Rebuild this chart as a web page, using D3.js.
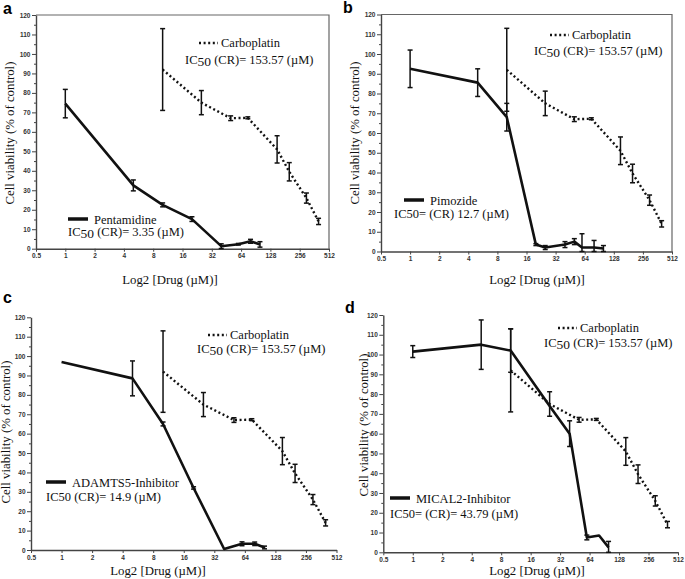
<!DOCTYPE html>
<meta charset="utf-8">
<style>
body { margin: 0; background: #fff; }
.axis path, .axis line { stroke: #444; }
.axis path { stroke-width: 1.4; }
.axis text { font-family: "Liberation Sans", Arial, sans-serif; font-size: 6.5px; font-weight: bold; fill: #333; }
.letter { font-family: "Liberation Sans", Arial, sans-serif; font-weight: bold; font-size: 16px; fill: #000; }
</style>
<body>
<script src="https://cdn.jsdelivr.net/npm/d3@7"></script>
<script>
var serif = "'Liberation Serif', 'DejaVu Serif', serif";

// x ticks (log2 scale) and y ticks
var xTicks = [0.5, 1, 2, 4, 8, 16, 32, 64, 128, 256, 512];
var yTicks = [0, 10, 20, 30, 40, 50, 60, 70, 80, 90, 100, 110, 120];
var yMinor = [5, 15, 25, 35, 45, 55, 65, 75, 85, 95, 105, 115];

// Carboplatin (same curve in all four panels)
var carboConc = [10, 25, 50, 75, 150, 200, 300, 400];
var carboMean = [92, 75, 67, 67.2, 51, 39.5, 26, 14];
var carboSd   = [21, 6.2, 1.2, 0.5, 7, 4.7, 2.6, 1.6];

// panel a
var pentaConc = [1, 5, 10, 20, 40, 60, 80, 100];
var pentaMean = [74.5, 32.5, 22.5, 15.2, 1.3, 2.3, 3.8, 2.2];
var pentaSd   = [7.3, 2.8, 1, 1.2, 1.2, 0.4, 1, 1.4];

// panel b
var pimoConc = [1, 5, 10, 20, 25, 40, 50, 60, 80, 100];
var pimoMean = [92.5, 85.5, 68, 3.5, 2, 3.5, 5, 2, 2, 1.5];
var pimoSd   = [9.5, 7, 7, 0.5, 1, 1.5, 1.5, 7, 3.6, 1.5];

// panel c
var adamConc = [1, 5, 10, 20, 40, 60, 80, 100];
var adamMean = [97, 88.5, 65, 32, 0.5, 3.2, 3.2, 1.3];
var adamSd   = [0, 9, 1, 0.6, 0, 1, 0.9, 0.7];

// panel d
var micalConc = [1, 5, 10, 25, 40, 60, 80, 100];
var micalMean = [101.5, 105, 102, 74, 60, 7.5, 8.5, 2.5];
var micalSd   = [3, 12.5, 11, 0, 6.5, 1.2, 0, 3];

var panels = [
  {letter: "a", lx: 3, ly: 14, x0: 36, x1: 329, yTop: 15, yBot: 248.7, frame: true,
   conc: pentaConc, mean: pentaMean, sd: pentaSd,
   name: "Pentamidine", ic: ["IC", "50", " (CR)= 3.35 (\u00b5M)"], icSub: true,
   leg1: [199, 43, 185, 64], leg2: [68, 219, 68, 236], yt: [14, 133], xt: [170, 284]},
  {letter: "b", lx: 343, ly: 13, x0: 381, x1: 672, yTop: 14.5, yBot: 251.5, frame: true,
   conc: pimoConc, mean: pimoMean, sd: pimoSd,
   name: "Pimozide", ic: ["IC", "50", "= (CR) 12.7 (\u00b5M)"], icSub: false,
   leg1: [550, 35, 534, 55], leg2: [404, 200, 394, 218], yt: [359, 133], xt: [537, 284]},
  {letter: "c", lx: 3, ly: 303, x0: 31, x1: 336.5, yTop: 317.3, yBot: 550, frame: false,
   conc: adamConc, mean: adamMean, sd: adamSd,
   name: "ADAMTS5-Inhibitor", ic: ["IC", "50", " (CR)= 14.9 (\u00b5M)"], icSub: false,
   leg1: [208, 335, 197, 353], leg2: [46, 482, 46, 501], yt: [10, 432], xt: [158, 575]},
  {letter: "d", lx: 345, ly: 313, x0: 383.3, x1: 678, yTop: 315, yBot: 552.3, frame: false,
   conc: micalConc, mean: micalMean, sd: micalSd,
   name: "MICAL2-Inhibitor", ic: ["IC", "50", "= (CR)= 43.79 (\u00b5M)"], icSub: false,
   leg1: [558, 328, 544, 347], leg2: [390, 498, 390, 518], yt: [368, 425], xt: [537, 575]}
];

var svg = d3.select("body").append("svg")
    .attr("width", 685)
    .attr("height", 579);

function series(g, x, y, conc, mean, sd, dotted) {
  var pts = conc.map(function(c, i) { return {c: c, m: mean[i], s: sd[i]}; });
  var line = d3.line()
      .x(function(d) { return x(d.c); })
      .y(function(d) { return y(d.m); });
  g.append("path")
      .attr("d", line(pts))
      .attr("fill", "none")
      .attr("stroke", "#111")
      .attr("stroke-width", dotted ? 2.4 : 2.6)
      .attr("stroke-dasharray", dotted ? "2,2.6" : null)
      .attr("stroke-linejoin", "round");
  var eb = g.selectAll(null)
      .data(pts.filter(function(d) { return d.s > 0; }))
    .enter().append("g");
  eb.append("line")
      .attr("x1", function(d) { return x(d.c); })
      .attr("x2", function(d) { return x(d.c); })
      .attr("y1", function(d) { return y(Math.max(0, d.m - d.s)); })
      .attr("y2", function(d) { return y(d.m + d.s); })
      .attr("stroke", "#111").attr("stroke-width", 1.5);
  [-1, 1].forEach(function(k) {
    eb.append("line")
        .attr("x1", function(d) { return x(d.c) - 2.5; })
        .attr("x2", function(d) { return x(d.c) + 2.5; })
        .attr("y1", function(d) { return y(Math.max(0, d.m + k * d.s)); })
        .attr("y2", function(d) { return y(Math.max(0, d.m + k * d.s)); })
        .attr("stroke", "#111").attr("stroke-width", 1.5);
  });
}

function label(g, px, py, size) {
  return g.append("text")
      .attr("x", px).attr("y", py)
      .attr("font-family", serif)
      .attr("font-size", size)
      .attr("fill", "#111");
}

function icText(g, px, py, parts, sub) {
  var t = label(g, px, py, 12.5);
  t.append("tspan").text(parts[0]);
  t.append("tspan").attr("dy", sub ? 2 : 0).attr("font-size", sub ? 13.5 : null).text(parts[1]);
  t.append("tspan").attr("dy", sub ? -2 : 0).text(parts[2]);
}

panels.forEach(function(p) {
  var x = d3.scaleLog().base(2).domain([0.5, 512]).range([p.x0, p.x1]);
  var y = d3.scaleLinear().domain([0, 120]).range([p.yBot, p.yTop]);
  var g = svg.append("g");

  if (p.frame) {
    g.append("path")
        .attr("d", "M" + p.x0 + "," + p.yTop + "H" + p.x1 + "V" + p.yBot)
        .attr("fill", "none").attr("stroke", "#666").attr("stroke-width", 1.2);
  }

  // y axis
  g.append("g").attr("class", "axis")
      .attr("transform", "translate(" + p.x0 + ",0)")
      .call(d3.axisLeft(y).tickValues(yTicks).tickSize(4).tickSizeOuter(0).tickPadding(1.5));
  g.append("g").attr("class", "axis")
      .attr("transform", "translate(" + p.x0 + ",0)")
      .call(d3.axisLeft(y).tickValues(yMinor).tickSize(2).tickFormat(""))
      .select(".domain").remove();

  // x axis
  g.append("g").attr("class", "axis")
      .attr("transform", "translate(0," + p.yBot + ")")
      .call(d3.axisBottom(x).tickValues(xTicks).tickSize(3).tickSizeOuter(0).tickPadding(2)
            .tickFormat(function(d) { return d; }));

  // axis titles
  label(g, 0, 0, 12.8)
      .attr("transform", "translate(" + p.yt[0] + "," + p.yt[1] + ") rotate(-90)")
      .attr("text-anchor", "middle")
      .text("Cell viability (% of control)");
  label(g, p.xt[0], p.xt[1], 12.8)
      .attr("text-anchor", "middle")
      .text("Log2 [Drug (\u00b5M)]");

  g.append("text").attr("class", "letter")
      .attr("x", p.lx).attr("y", p.ly).text(p.letter);

  series(g, x, y, carboConc, carboMean, carboSd, true);
  series(g, x, y, p.conc, p.mean, p.sd, false);

  // legend: carboplatin
  g.append("line")
      .attr("x1", p.leg1[0]).attr("x2", p.leg1[0] + 19)
      .attr("y1", p.leg1[1]).attr("y2", p.leg1[1])
      .attr("stroke", "#111").attr("stroke-width", 2.4).attr("stroke-dasharray", "2,2.6");
  label(g, p.leg1[0] + 22, p.leg1[1] + 4, 12.5).text("Carboplatin");
  icText(g, p.leg1[2], p.leg1[3], ["IC", "50", " (CR)= 153.57 (\u00b5M)"], true);

  // legend: drug
  g.append("line")
      .attr("x1", p.leg2[0]).attr("x2", p.leg2[0] + 20)
      .attr("y1", p.leg2[1]).attr("y2", p.leg2[1])
      .attr("stroke", "#111").attr("stroke-width", 3.5);
  label(g, p.leg2[0] + 26, p.leg2[1] + 4.5, 12.5).text(p.name);
  icText(g, p.leg2[2], p.leg2[3], p.ic, p.icSub);
});
</script>
</body>
